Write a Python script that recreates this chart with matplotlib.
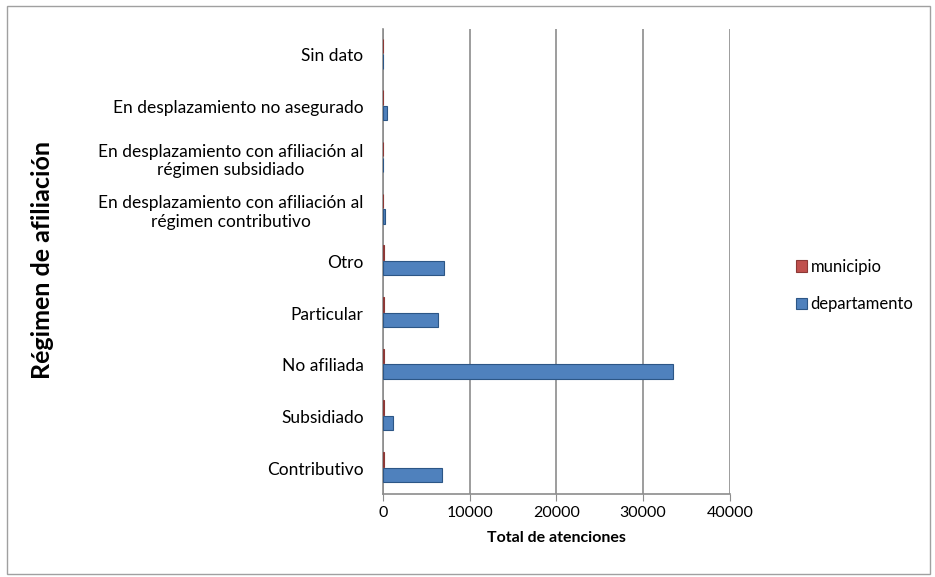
import numpy as np
import matplotlib.pyplot as plt
from matplotlib.patches import Rectangle

plt.rcParams['font.family'] = ['Lato', 'DejaVu Sans']

categories = ["Contributivo", "Subsidiado", "No afiliada", "Particular", "Otro",
              "En desplazamiento con afiliación al\nrégimen contributivo",
              "En desplazamiento con afiliación al\nrégimen subsidiado",
              "En desplazamiento no asegurado", "Sin dato"]
departamento = [6800, 1150, 33400, 6300, 7000, 180, 60, 450, 40]
municipio = [150, 80, 160, 120, 130, 10, 5, 20, 5]

fig = plt.figure(figsize=(9.35, 5.77), dpi=100)
ax = fig.add_axes([0.4096, 0.144, 0.371, 0.806])

y = np.arange(len(categories))
h = 0.28
ax.barh(y - h / 2 + 0.01, departamento, height=h, color="#4F81BD",
        edgecolor="#2C5686", linewidth=0.8, label="departamento", zorder=3)
ax.barh(y + h / 2 + 0.03, municipio, height=h, color="#C0504D",
        edgecolor="#8C3836", linewidth=0.8, label="municipio", zorder=3)

ax.set_xlim(0, 40000)
ax.set_ylim(-0.5, len(categories) - 0.5)
ax.set_xticks([0, 10000, 20000, 30000, 40000])
ax.set_yticks(y, labels=categories)
for lbl in ax.get_yticklabels():
    lbl.set_multialignment("center")
ax.tick_params(axis="y", length=0, pad=14, labelsize=12.5)
ax.tick_params(axis="x", length=5, color="#8C8C8C", labelsize=11.5)
ax.grid(axis="x", color="#8C8C8C", linewidth=1.2, zorder=0)
for s in ["top", "right"]:
    ax.spines[s].set_visible(False)
for s in ["left", "bottom"]:
    ax.spines[s].set_color("#8C8C8C")
    ax.spines[s].set_linewidth(1.2)

ax.set_xlabel("Total de atenciones", fontsize=11.5, fontweight="bold", labelpad=8)
fig.text(0.045, 0.55, "Régimen de afiliación", rotation=90, fontsize=18,
         fontweight="bold", ha="center", va="center")

handles, labels = ax.get_legend_handles_labels()
fig.legend(handles[::-1], labels[::-1], loc="center left",
           bbox_to_anchor=(0.835, 0.505), frameon=False, fontsize=12,
           handlelength=0.7, handleheight=0.7, handletextpad=0.2,
           labelspacing=1.3)

fig.patches.append(Rectangle((0.008, 0.005), 0.987, 0.985, transform=fig.transFigure,
                             fill=False, edgecolor="#A0A0A0", linewidth=1))

fig.savefig("out.png", dpi=100)
